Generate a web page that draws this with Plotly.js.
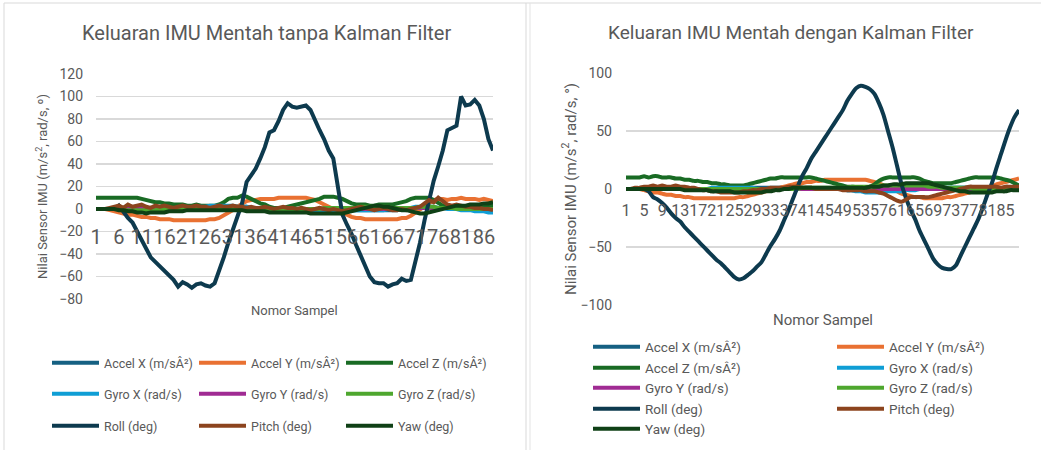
<!DOCTYPE html>
<html><head><meta charset="utf-8">
<script src="https://cdn.plot.ly/plotly-3.0.1.min.js"></script>
<style>html,body{margin:0;padding:0;background:#fff;} #chart{width:1041px;height:450px;}</style>
</head><body><div id="chart"></div>
<script>
// ---------- DATA ----------
const seriesNames = ['Accel X (m/sÂ²)','Accel Y (m/sÂ²)','Accel Z (m/sÂ²)','Gyro X (rad/s)','Gyro Y (rad/s)','Gyro Z (rad/s)','Roll (deg)','Pitch (deg)','Yaw (deg)'];
const xTicksL = [1,6,11,16,21,26,31,36,41,46,51,56,61,66,71,76,81,86];
const xTicksR = [1,5,9,13,17,21,25,29,33,37,41,45,49,53,57,61,65,69,73,77,81,85];

// Left chart: without Kalman filter
const accelXL = [0,0,0,0,0,0,1,1,1,1,1, 1,1,1,1,1,1,1,1,1,1,1, 1,1,1,2,2,2,2,2,2,2,2, 2,1,1,1,1,1,1,0,0,0,0, 0,0,0,0,0,0,-1,-1,-1,-1,-1, -1,-1,-1,-1,-1,-1,-1,-1,-1,-1,-1, -1,0,0,0,1,1,1,1,1,1,1, 1,1,1,1,0,0,0,0,-1,-1,-1];
const accelYL = [0,0,0,-1, -2,-3,-4,-5,-5,-6, -7,-7,-8,-8,-9,-9,-9,-10,-10,-10, -10,-10,-10,-10,-10,-9,-9,-8, -6,-4,-1,2,5, 7,8,8,9,9,9,9, 10,10,10,10,10,10,10,9,8,6, 4,2,0,-2,-4,-5, -7,-8,-8,-9,-9,-9,-9,-9,-9,-9,-9,-8,-8,-6, -3,0,3,6,8,9, 9,8,9,9,10,9,9,9,8,9,8,7];
const accelZL = [10,10,10,10,10,10,10,10,10,10, 9,8,7,6,6,5,5,4, 4,4,3,3,4,3,3,3,3, 4,6,9,10,10,12, 11,9,7,5,4,2,1, 1,1,2,3,4,5, 6,7,8,9,11,11,11,10, 9,7,5,4,4,4, 3,3,4,4,4,4,5,6,7,9, 10,10,10,10,8,5, 3,2,1,1,1,1,2,2,2,3,3,3];
const gyroXL = [0,0,0,0,0,0,0,0,0,0,0, 0,0,0,0,0,0,0,0,1,1,1, 1,2,2,3,3,3,3,3,3,2,2, 2,1,1,1,1,0,0,0,0,0,0, 0,-1,-1,-1,-2,-2,-2,-2,-2,-2,-2, -2,-1,-1,-1,-1,-1,-1,-1,-1,0,0, 0,0,1,1,2,2,2,2,2,1,1, 0,0,0,-1,-1,-1,-2,-2,-2,-3,-3];
const gyroYL = [0,0,0,0,0,0,0,0,0,0,0, 0,0,0,0,0,0,0,0,0,0,0, 0,0,0,1,1,1,1,1,1,1,1, 1,1,1,0,0,0,0,0,0,0,0, 0,0,0,0,0,0,0,0,0,0,0, 0,0,0,0,0,0,0,0,0,0,0, 0,0,0,0,1,1,1,1,1,1,1, 1,1,1,0,0,0,0,0,0,0,0];
const gyroZL = [0,0,0,0,0,0,-1,-1,-1,-1,-1, -1,-1,-1,0,0,0,0,0,0,0,0, 0,0,1,1,1,1,1,1,1,1,1, 1,1,1,0,0,0,0,0,0,0,0, 0,0,0,0,0,0,1,1,1,1,1, 1,1,1,2,2,2,2,2,2,2,1, 1,1,1,1,1,2,2,2,2,1,1, 1,1,0,0,0,0,0,0,0,0,0];
const rollL = [0,0,0,0,0,3,-3,-8,-12,-20, -27,-36,-43,-47,-51,-54,-58,-63,-69,-65, -67,-70,-67,-66,-68,-69,-66,-55,-43,-30, -18,-7,5,24,30,36,45,55,68,70, 78,88,94,91,90,91,92,88,78,70, 62,52,45,20,-5,-14,-22,-32,-42,-52, -60,-65,-66,-66,-69,-67,-66,-62,-64,-63, -48,-30,-10,8,25,38,52,70,72,74, 100,92,93,97,92,80,62,52];
const pitchL = [0,0,0,1,2, 3,1,4,2,3,4,2,1,3,2, 3,2,1,2,3,2,2,3,2,2,1,2,3,2,2, 3,2,2,1,2,1,1,2,1,0,1,2,1,1,0, 1,0,-1,0,1,0,-1,0,-1,-2,-1,0,1,2,1, 0,-1,0,1,0,-1,-1,0,-1,0,1,2,5,8,6, 10,7,4,3,4,3,2,2,1,1,0,0,-1];
const yawL = [0,0,0,0,0, -1,-1,-2,-2,-3,-3,-4,-3,-3,-3, -3,-2,-2,-2,-2,-1,-1,-1,-1,-1,-1,-1,-1,-1,-1, -1,-1,-1,-2,-2,-2,-2,-2,-3,-3,-3,-3,-3,-3,-3, -3,-3,-4,-4,-4,-4,-4,-4,-4,-4,-3,-2,-1,0,1, 2,3,3,2,2,1,0,-1,-1,-2,-3,-4,-4,-3,-2, -1,0,1,2,3,3,3,4,4,4,5,5,6];

// Right chart: with Kalman filter
const accelXR = [0,0,0,0,0,0,0,0,0,0,0, 0,0,0,0,0,0,0,0,0,0,0, 0,1,1,1,1,1,1,1,1,1,1, 1,1,1,1,1,1,1,1,1,0,0, 0,0,0,0,0,-1,-1,-1,-1,-1,-1, -1,-1,-1,-1,-1,-1,-1,-1,0,0,0, 0,0,0,0,0,0,1,1,1,1,1, 1,1,1,0,0,0,0,0,0,0,0];
const accelYR = [0,0,0,0,-1, -2,-3,-3,-4,-5,-5,-6,-6,-7,-7, -8,-8,-8,-8,-8,-8,-8,-8,-8,-8,-7, -7,-6,-5,-4,-3,-2,-1,0,1, 2,3,4,5,5,6,6, 7,7,8,8,8,8,8,8,8,8,8,8,7, 6,5,3,1,0,-2,-4,-5, -6,-7,-7,-8,-8,-8,-8,-8,-7,-7,-6, -5,-4,-3,-2,-1,0,1, 2,4,5,6,7,8,9];
const accelZR = [10,10,10,10,11,10,11,11, 10,10,10,9,9,8,8,7,7,6,6,5,5,4,4,3,3,3, 3,4,5,6,7,8,9,9,10, 10,10,10,10,10,10,10,9, 8,7,6,5,4,3,2,2,1, 1,1,2,4,7,9, 10,10,10,10,10,10,10, 9,7,6,5,5,5,5,5,6, 7,8,9,10,10,10,10, 10,10,9,8,7,5,3];
const gyroXR = [0,0,0,0,0,0,0,0,0,0,0, 0,0,0,0,0,0,0,0,1,1,1, 1,1,1,1,1,1,1,0,0,0,0, 0,0,0,0,0,0,0,0,0,0,0, 0,0,0,0,0,-1,-1,-2,-2,-3,-3, -3,-3,-3,-2,-2,-2,-2,-1,-1,-1,0, 0,0,0,0,0,1,1,1,1,1,1, 1,1,1,1,1,1,0,0,0,0,0];
const gyroYR = [0,0,0,0,0,0,0,0,0,0,0, 0,0,0,0,0,0,0,0,0,0,0, 0,0,0,0,0,0,0,0,0,0,0, 0,0,0,0,0,0,0,0,0,0,0, 0,0,0,0,0,0,0,0,0,0,0, 0,0,0,0,0,0,0,0,0,0,0, 0,0,0,0,0,0,0,0,0,0,0, 0,0,0,0,0,0,0,0,0,0,0];
const gyroZR = [0,0,0,0,0,0,0,0,0,0,0, 0,0,0,0,0,0,0,0,0,0,0, 0,0,0,0,0,0,0,0,0,0,0, 0,0,0,0,0,0,1,1,1,1,1, 1,1,1,1,1,1,2,2,2,2,2, 2,3,3,3,3,3,3,3,3,3,3, 3,2,2,2,1,1,1,1,1,1,1, 0,0,0,0,0,0,0,0,0,0,0];
const rollR = [0,0,0,0,0,-2,-7,-9,-12,-16, -21,-25,-28,-33,-37,-41,-45,-49,-53,-57, -61,-64,-68,-72,-76,-78,-77,-74,-71,-67, -63,-56,-49,-43,-36,-27,-18,-8,2,11, 18,26,32,38,44,50,56,62,68,76, 82,87,89,88,86,82,74,64,50,36, 20,4,-8,-18,-26,-36,-44,-52,-60,-65, -68,-69,-69,-66,-58,-50,-42,-34,-26,-16, -5,5,18,30,42,53,62,68];
const pitchR = [0,0,1,1,2, 2,3,2,3,2,2,3,2,2,1, 1,0,-1,-1,-2,-2,-3,-3,-3,-3, -3,-2,-2,-1,-1,0,0,1,1,1, 1,2,2,2,1,1,1,0,0,0, 0,0,0,-1,-1,-1,-1,-1,-2,-2, -2,-3,-4,-6,-8,-10,-11,-9,-7,-7, -7,-7,-7,-6,-5,-4,-3,-2,-1,0, 1,2,2,2,2,2,2,2,1,2,2,2,2];
const yawR = [0,0,0,0,0,0,0,0,0,0,0,0,0,-1,-1, -1,-1,-1,-1,-2,-2,-2,-2,-2,-3,-3,-3,-3,-3,-3, -3,-2,-2,-1,-1,0,0,1,1,1,1,1,1,1,1, 1,1,1,1,1,1,1,1,1,2,2,2,3,3,4, 4,4,5,5,5,5,5,5,4,3,2,1,0,-1,-2, -2,-3,-3,-3,-3,-3,-3,-2,-2,-2,-1,-1,-1];

// ---------- STYLE ----------
const W = 1041, H = 450;
const colors = ['#156082','#E97132','#196B24','#0F9ED5','#A02B93','#4EA72E','#0D3A4E','#8C441E','#0F4016'];
const FONT = 'Roboto, Lato, sans-serif';
const GRAY = '#595959';
const px = v => v / W;
const py = v => 1 - v / H;

const leftSeries = [accelXL, accelYL, accelZL, gyroXL, gyroYL, gyroZL, rollL, pitchL, yawL];
const rightSeries = [accelXR, accelYR, accelZR, gyroXR, gyroYR, gyroZR, rollR, pitchR, yawR];
const N = rollL.length;
const samples = Array.from({length: N}, (_, i) => i + 1);

const leftLegends = ['legend','legend2','legend3'];
const traces = [];
leftSeries.forEach((ys, k) => traces.push({
  type:'scatter', mode:'lines', x: samples, y: ys, name: seriesNames[k],
  xaxis:'x', yaxis:'y', legend: leftLegends[Math.floor(k/3)],
  line:{color: colors[k], width: 4}
}));
rightSeries.forEach((ys, k) => traces.push({
  type:'scatter', mode:'lines', x: samples, y: ys, name: seriesNames[k],
  xaxis:'x2', yaxis:'y2', legend: 'legend' + (4 + k),
  line:{color: colors[k], width: 4, shape:'spline', smoothing:0.8}
}));

const yRangeL = [-80, 120], yRangeR = [-100, 100];
const yDomL = [py(299), py(74)], yDomR = [py(305), py(73)];
const zeroPos = (dom, r) => dom[0] + (0 - r[0]) / (r[1] - r[0]) * (dom[1] - dom[0]);

function legendBox(x, y, size, ew) {
  const o = {x: x, y: y, xanchor:'left', yanchor:'middle', orientation:'h',
    traceorder:'normal', itemwidth: 47,
    bgcolor:'rgba(0,0,0,0)', font:{family: FONT, size: size, color: GRAY}};
  if (ew) { o.entrywidth = ew; o.entrywidthmode = 'pixels'; }
  return o;
}

const layout = {
  width: W, height: H, autosize:false,
  margin:{l:0, r:0, t:0, b:0},
  paper_bgcolor:'#fff', plot_bgcolor:'#fff',
  font:{family: FONT, color: GRAY},
  showlegend:true,
  xaxis:{domain:[px(96), px(493)], range:[1, N], tickvals:xTicksL, ticktext:xTicksL.map(String),
    tickangle:0, showgrid:false, zeroline:false, showline:false, ticks:'',
    anchor:'free', position: zeroPos(yDomL, yRangeL), ticklabelstandoff:14,
    tickfont:{family: FONT, size:20, color: GRAY}},
  yaxis:{domain:yDomL, range:yRangeL, dtick:20, tick0:0, anchor:'x',
    gridcolor:'#d9d9d9', gridwidth:1.3, zeroline:false, showline:false, ticks:'',
    ticklabelstandoff:12, tickfont:{family: FONT, size:14, color: GRAY},
    title:{text:'Nilai Sensor IMU (m/s<sup>2</sup>, rad/s, º)', font:{family: FONT, size:13, color: GRAY}, standoff:8}},
  xaxis2:{domain:[px(626), px(1019)], range:[1, N], tickvals:xTicksR, ticktext:xTicksR.map(String),
    tickangle:0, showgrid:false, zeroline:false, showline:false, ticks:'',
    anchor:'free', position: zeroPos(yDomR, yRangeR), ticklabelstandoff:10,
    tickfont:{family: FONT, size:16, color: GRAY}},
  yaxis2:{domain:yDomR, range:yRangeR, dtick:50, tick0:0, anchor:'x2',
    gridcolor:'#d9d9d9', gridwidth:1.3, zeroline:false, showline:false, ticks:'',
    ticklabelstandoff:13, tickfont:{family: FONT, size:14, color: GRAY},
    title:{text:'Nilai Sensor IMU (m/s<sup>2</sup>, rad/s, °)', font:{family: FONT, size:15, color: GRAY}, standoff:0}},
  legend: legendBox(px(47), py(363), 12.5, 85),
  legend2: legendBox(px(47), py(394), 12.5, 85),
  legend3: legendBox(px(47), py(426), 12.5, 85),
  annotations:[
    {text:'Keluaran IMU Mentah tanpa Kalman Filter', xref:'paper', yref:'paper', x:px(266), y:py(33),
      xanchor:'center', yanchor:'middle', showarrow:false, font:{family: FONT, size:20, color: GRAY}},
    {text:'Keluaran IMU Mentah dengan Kalman Filter', xref:'paper', yref:'paper', x:px(791), y:py(32),
      xanchor:'center', yanchor:'middle', showarrow:false, font:{family: FONT, size:19, color: GRAY}},
    {text:'Nomor Sampel', xref:'x domain', yref:'paper', x:0.5, y:py(310),
      xanchor:'center', yanchor:'middle', showarrow:false, font:{family: FONT, size:13, color: GRAY}},
    {text:'Nomor Sampel', xref:'x2 domain', yref:'paper', x:0.5, y:py(320),
      xanchor:'center', yanchor:'middle', showarrow:false, font:{family: FONT, size:15, color: GRAY}}
  ],
  shapes:[
    {type:'line', xref:'paper', yref:'paper', x0:px(4), x1:1, y0:py(3), y1:py(3), line:{color:'#d9d9d9', width:1}, layer:'below'},
    {type:'line', xref:'paper', yref:'paper', x0:px(4), x1:px(4), y0:py(3), y1:0, line:{color:'#d9d9d9', width:1}, layer:'below'},
    {type:'line', xref:'paper', yref:'paper', x0:px(526), x1:px(526), y0:py(3), y1:0, line:{color:'#d9d9d9', width:1}, layer:'below'},
    {type:'line', xref:'paper', yref:'paper', x0:px(530), x1:px(530), y0:py(3), y1:0, line:{color:'#e3e3e3', width:1}, layer:'below'}
  ]
};
// right legend: two columns, five rows
const rightCols = [588, 832], rightRows = [347, 368, 388, 409, 429];
for (let k = 0; k < 9; k++) {
  layout['legend' + (4 + k)] = legendBox(px(rightCols[k % 2]), py(rightRows[Math.floor(k / 2)]), 13.5);
}

Plotly.newPlot('chart', traces, layout, {staticPlot:true, displayModeBar:false});
</script>
</body></html>
